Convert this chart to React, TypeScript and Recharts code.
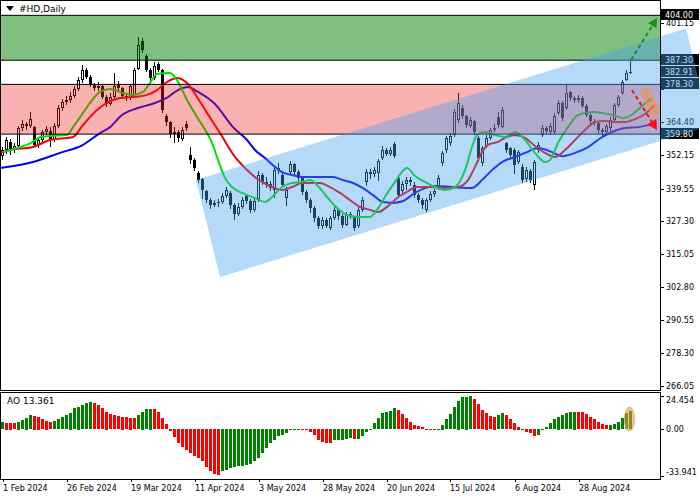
import React from 'react'
import {
  ComposedChart,
  Bar,
  Line,
  Area,
  XAxis,
  YAxis,
  ReferenceArea,
  ReferenceLine,
  ReferenceDot,
  Cell,
} from 'recharts'

const FONT = '"DejaVu Sans", Tahoma, Verdana, sans-serif'

// daily bars from 1 Feb 2024, one per trading day
const opens = [
  351.5, 353.9, 357.0, 353.9, 355.4, 362.1, 363.6, 362.8, 362.5, 355.7,
  357.6, 360.6, 361.0, 357.6, 362.8, 369.5, 371.7, 372.5, 374.0, 376.6,
  379.9, 383.7, 381.1, 378.1, 377.0, 377.7, 373.6, 371.0, 373.6, 378.5,
  376.8, 374.0, 373.2, 374.5, 384.0, 394.5, 389.0, 383.7, 380.7, 385.8,
  383.7, 366.5, 364.3, 360.0, 360.6, 358.0, 363.5, 352.0, 350.2, 345.5,
  343.0, 338.5, 335.3, 333.4, 334.0, 334.5, 336.8, 338.0, 333.4, 330.1,
  332.7, 336.6, 335.0, 331.6, 335.5, 344.6, 342.0, 341.2, 339.0, 346.4,
  344.6, 336.0, 345.7, 348.5, 345.7, 343.5, 338.3, 335.3, 332.3, 328.6,
  325.6, 327.8, 325.0, 328.6, 331.6, 329.3, 326.0, 330.2, 329.0, 325.5,
  331.6, 342.0, 345.7, 344.8, 345.5, 350.8, 353.9, 352.4, 356.0, 343.5,
  338.5, 341.2, 342.7, 341.0, 337.1, 335.3, 331.5, 335.3, 337.5, 340.0,
  349.0, 353.8, 356.5, 359.5, 365.0, 369.5, 366.5, 362.8, 364.5, 358.5,
  349.0, 355.5, 358.3, 361.3, 366.0, 362.5, 356.5, 354.5, 354.0, 349.5,
  347.5, 343.0, 346.0, 340.9, 353.8, 359.5, 362.1, 360.5, 360.5, 367.8,
  371.4, 369.5, 375.5, 373.2, 372.5, 373.2, 370.3, 366.9, 364.7, 364.0,
  361.3, 360.5, 362.0, 365.0, 370.6, 375.0, 380.0, 382.5,
]
const highs = [
  355.0, 358.8, 357.8, 356.5, 363.0, 365.0, 364.4, 368.0, 363.0, 358.5,
  361.5, 363.0, 362.5, 364.0, 370.5, 373.0, 374.0, 375.5, 377.8, 381.0,
  385.5, 384.5, 381.8, 379.0, 379.2, 378.2, 374.5, 375.0, 382.5, 379.5,
  377.5, 375.0, 378.5, 384.5, 396.0, 395.5, 389.8, 384.5, 386.5, 386.5,
  384.0, 367.3, 364.8, 362.5, 361.2, 362.5, 364.5, 355.0, 351.0, 346.0,
  343.5, 339.0, 336.0, 335.2, 335.8, 337.8, 340.0, 338.5, 334.0, 334.2,
  336.5, 337.5, 335.8, 335.6, 346.0, 345.5, 344.0, 342.2, 348.0, 349.0,
  346.0, 340.0, 349.8, 349.0, 346.5, 344.0, 339.0, 336.0, 333.0, 329.5,
  328.8, 328.5, 329.5, 332.5, 332.0, 330.0, 331.0, 330.8, 329.5, 332.5,
  336.5, 346.8, 347.0, 347.5, 350.5, 355.2, 354.5, 355.0, 356.8, 344.0,
  342.5, 344.0, 344.0, 341.8, 338.0, 336.0, 336.0, 338.5, 339.5, 344.5,
  353.5, 359.2, 360.2, 369.0, 375.0, 370.5, 367.0, 366.0, 365.0, 359.0,
  355.5, 359.5, 362.0, 363.5, 368.0, 370.0, 357.0, 355.0, 354.5, 354.0,
  348.5, 347.5, 346.8, 350.2, 356.8, 363.2, 363.0, 363.8, 367.5, 372.5,
  372.0, 378.0, 376.0, 374.0, 374.2, 373.8, 371.0, 367.5, 365.5, 364.8,
  362.0, 363.5, 366.0, 371.5, 374.5, 380.0, 383.5, 387.0,
]
const lows = [
  350.0, 352.5, 352.0, 352.8, 354.8, 361.0, 361.5, 362.0, 355.0, 354.6,
  356.8, 359.5, 355.0, 357.0, 362.0, 368.5, 370.8, 371.5, 373.2, 376.0,
  379.0, 380.2, 377.2, 376.0, 375.8, 372.8, 369.8, 370.2, 373.0, 375.8,
  373.0, 372.2, 372.5, 373.8, 383.5, 390.0, 382.8, 379.5, 380.0, 382.8,
  367.5, 363.0, 358.5, 356.5, 356.8, 357.2, 361.0, 348.5, 346.0, 341.5,
  335.5, 334.0, 332.0, 332.6, 332.8, 333.8, 336.0, 332.0, 328.0, 329.5,
  332.0, 333.8, 330.5, 331.0, 334.5, 341.0, 339.8, 338.5, 336.0, 345.0,
  340.0, 333.0, 344.8, 344.5, 342.5, 337.0, 334.0, 330.5, 327.0, 324.5,
  324.6, 324.8, 324.2, 327.8, 328.0, 325.0, 325.5, 328.2, 323.8, 325.0,
  330.8, 340.5, 343.0, 343.8, 342.5, 350.0, 351.5, 351.8, 350.8, 336.0,
  337.5, 339.0, 340.5, 336.0, 334.0, 332.0, 330.8, 334.5, 336.5, 339.0,
  348.0, 352.8, 355.5, 358.8, 364.0, 365.5, 362.0, 362.0, 359.5, 349.5,
  348.0, 354.5, 357.5, 360.5, 362.0, 362.0, 352.8, 350.5, 345.0, 348.8,
  341.5, 342.0, 341.5, 339.0, 352.8, 358.8, 359.8, 359.5, 359.8, 367.0,
  364.5, 368.8, 372.0, 371.5, 371.5, 369.5, 366.0, 363.5, 362.8, 360.0,
  359.0, 360.0, 361.0, 364.5, 370.0, 374.5, 379.5, 382.0,
]
const closes = [
  353.9, 357.6, 353.9, 355.4, 362.1, 363.6, 362.8, 365.4, 355.7, 357.6,
  360.6, 361.7, 357.6, 362.8, 369.5, 371.7, 372.5, 374.0, 376.6, 379.9,
  383.7, 381.1, 378.1, 377.0, 377.7, 373.6, 371.0, 373.6, 377.7, 376.8,
  374.0, 373.2, 377.7, 383.7, 393.0, 391.1, 383.7, 380.7, 385.1, 383.7,
  368.8, 364.3, 359.8, 360.6, 358.3, 361.3, 362.1, 350.2, 347.2, 342.7,
  339.0, 335.3, 333.4, 334.0, 334.5, 336.8, 339.0, 333.4, 330.1, 332.7,
  335.3, 335.0, 331.6, 334.9, 344.6, 342.0, 341.2, 339.7, 346.4, 347.2,
  340.9, 339.0, 348.5, 345.7, 343.5, 338.3, 335.3, 332.3, 328.6, 325.6,
  327.8, 325.6, 328.6, 331.6, 329.3, 326.0, 329.7, 329.0, 324.9, 331.6,
  335.3, 345.7, 344.8, 346.4, 349.8, 353.9, 352.4, 353.9, 351.6, 337.1,
  341.2, 342.7, 342.0, 337.1, 335.3, 333.4, 335.3, 337.5, 338.6, 343.5,
  352.8, 358.3, 359.1, 368.0, 371.4, 366.5, 363.2, 365.1, 360.6, 350.9,
  354.6, 358.3, 361.3, 362.1, 363.2, 368.8, 353.9, 352.0, 348.3, 353.1,
  342.7, 346.4, 342.7, 349.4, 355.7, 362.1, 361.0, 362.8, 366.5, 371.4,
  365.8, 375.1, 373.2, 372.5, 373.2, 370.3, 366.9, 364.7, 364.0, 361.3,
  360.6, 362.8, 365.1, 370.6, 373.6, 379.2, 382.5, 382.91,
]

// alligator lines: [bar index, price]
const lips: [number, number][] = [
  [0, 353.1], [3.5, 354.6], [7.5, 356.9], [9.25, 358.7], [11.75, 359.1], [16, 359.5],
  [17.5, 362.4], [20, 367.7], [21.75, 371.4], [24.25, 375.5], [26.75, 376.6], [30, 375.1],
  [32.5, 374.4], [35, 375.5], [36.75, 378.8], [38.5, 382.2], [41.75, 382.5], [43.5, 379.9],
  [46, 372.5], [48.5, 366.2], [51, 360.2], [52.25, 356.5], [53.75, 350.2], [55.5, 343.5],
  [57.25, 340.1], [59.75, 337.9], [63, 336.0], [65.5, 334.5], [67.25, 336.4], [69.75, 340.1],
  [72.25, 341.6], [74.75, 342.0], [76.75, 342.7], [78.5, 340.9], [81, 336.4], [83.5, 332.3],
  [86, 329.7], [88.75, 329.0], [91.75, 329.0], [93.5, 331.6], [95.5, 336.4], [98, 342.0],
  [101, 347.2], [103, 344.2], [105.5, 342.0], [108, 340.1], [110.5, 339.0], [113, 340.1],
  [115.5, 346.4], [117.25, 355.0], [118.5, 359.5], [120.5, 360.6], [123, 359.5], [125.5, 358.7],
  [128, 360.6], [130.5, 357.6], [133, 352.8], [135.5, 349.4], [136.75, 350.2], [138.75, 356.5],
  [141.25, 362.4], [143.75, 366.9], [147.25, 368.0], [149.75, 367.7], [152.5, 366.9],
  [155, 365.8], [157.5, 367.3], [159.75, 370.3], [162, 372.9],
]
const teeth: [number, number][] = [
  [-0.75, 352.8], [1.75, 353.9], [7.5, 355.0], [11.75, 357.6], [17.5, 358.7], [20, 363.2],
  [23.5, 368.8], [26, 371.4], [29.25, 373.2], [32.5, 373.6], [36, 374.4], [38.5, 376.2],
  [41, 379.2], [43.5, 380.7], [46, 378.8], [48.5, 373.6], [51, 367.7], [54.25, 360.2],
  [58, 351.3], [60.5, 347.2], [63, 343.8], [64.75, 342.0], [67.25, 340.1], [69.75, 339.0],
  [72.25, 340.1], [74.75, 341.6], [79.25, 341.6], [81.75, 340.1], [84.25, 337.9], [86.75, 335.3],
  [89.25, 332.7], [91.75, 331.6], [93.75, 330.8], [96, 332.7], [98.5, 336.0], [101, 338.3],
  [103.5, 340.1], [106.75, 340.1], [111.25, 339.7], [113.75, 340.1], [116.25, 342.7],
  [118, 347.6], [119.75, 353.1], [121.25, 355.8], [123.75, 356.9], [125.5, 358.4], [128, 359.5],
  [130.5, 358.4], [133, 355.4], [135.5, 352.8], [138, 351.3], [140.5, 353.9], [143, 357.6],
  [145.5, 361.3], [148, 364.3], [150.5, 364.7], [153, 364.3], [155.5, 364.3], [158, 365.4],
  [160.5, 367.3], [162.75, 370.3],
]
const jaw: [number, number][] = [
  [-0.75, 347.2], [7.5, 349.4], [14.25, 352.8], [20, 355.8], [24.25, 360.2], [26.75, 362.4],
  [29.75, 366.9], [33.75, 369.5], [38, 371.4], [41.25, 373.6], [43.75, 376.2], [46.25, 377.3],
  [48.75, 375.5], [53, 371.0], [57.5, 362.4], [61, 357.6], [63, 353.9], [65.5, 350.9],
  [68, 347.6], [69.75, 345.7], [72.25, 344.6], [75.5, 343.8], [82.5, 343.8], [85, 342.7],
  [87.5, 341.6], [90, 339.7], [92.5, 337.1], [95, 334.5], [97.5, 334.2], [100, 334.9],
  [103, 337.9], [105.5, 339.7], [108, 340.5], [112.25, 340.1], [117.25, 339.7], [119.75, 342.7],
  [122.25, 346.4], [124.75, 349.4], [128, 351.3], [130.5, 352.8], [133.75, 354.6], [137.25, 353.1],
  [139.75, 351.6], [143, 352.8], [146.25, 355.0], [149.75, 358.7], [152.25, 360.6],
  [155.5, 362.1], [158.75, 362.4], [163, 363.9],
]

// awesome oscillator, one value per bar
const aoValues = [
  5.2, 4.9, 4.9, 4.7, 5.7, 6.9, 8.6, 10.5, 10.0, 9.3,
  7.6, 6.4, 5.2, 6.0, 7.4, 8.9, 10.5, 12.3, 15.4, 16.7,
  17.9, 19.1, 19.8, 19.3, 17.9, 15.4, 13.0, 11.3, 10.3, 9.8,
  9.3, 8.8, 8.6, 8.4, 10.5, 13.0, 14.7, 15.2, 14.9, 12.5,
  8.1, 3.7, -1.7, -6.0, -10.2, -13.1, -15.1, -17.5, -19.5, -21.2,
  -23.6, -28.0, -30.5, -32.7, -33.941, -31.0, -29.8, -28.6, -27.8, -27.3,
  -26.8, -26.1, -25.3, -23.6, -21.2, -17.5, -13.9, -10.2, -7.8, -5.3,
  -4.1, -2.9, -0.9, -0.3, -0.2, -0.25, -0.3, -2.4, -4.1, -7.8,
  -9.5, -10.0, -10.6, -8.3, -8.2, -7.8, -7.1, -6.5, -7.3, -7.0,
  -5.3, -2.4, 0.5, 4.4, 8.1, 11.8, 12.5, 13.4, 15.4, 14.2,
  11.3, 8.4, 5.7, 3.2, 2.5, 1.5, -0.6, -1.0, -1.0, 0.2,
  3.4, 7.6, 11.3, 16.2, 21.1, 23.5, 24.0, 24.454, 22.0, 18.6,
  14.2, 12.3, 9.8, 9.3, 10.5, 11.8, 10.3, 7.4, 4.9, 2.0,
  -0.5, -2.4, -2.9, -4.9, -4.1, -0.5, 1.5, 4.4, 7.4, 9.3,
  10.5, 11.8, 12.5, 13.0, 12.7, 12.5, 11.3, 9.3, 7.4, 5.2,
  3.9, 3.2, 3.4, 3.9, 5.7, 8.1, 11.8, 13.361,
]

const priceTicks = [401.15, 364.4, 352.15, 339.55, 327.3, 315.05, 302.8, 290.55, 278.3, 266.05]
// grid ticks whose labels sit under the marked price boxes
const coveredTicks = [388.9, 376.65]
const priceMarks = [404.0, 387.3, 382.91, 378.3, 359.8]
const aoTicks = [24.454, 0, -33.941]
const dateLabels = [
  '1 Feb 2024', '26 Feb 2024', '19 Mar 2024', '11 Apr 2024', '3 May 2024',
  '28 May 2024', '20 Jun 2024', '15 Jul 2024', '6 Aug 2024', '28 Aug 2024',
]
const dateBars = [0, 16, 32, 48, 64, 80, 96, 112, 128, 144]

// zones
const buyZone = [387.3, 404.0]
const sellZone = [359.8, 378.3]

// rising channel as a band: bar index, lower edge, upper edge
const channelX = [48.25, 54.25, 170.75, 176.75]
const channelLow = [342.7, 306.6, 360.2, 362.97]
const channelHigh = [342.7, 345.5, 399.1, 362.97]

// orange warning band next to the down arrow
const warnX = [159.5, 161.25, 162.5, 164.25]
const warnLow = [375.5, 370.0, 366.2, 368.0]
const warnHigh = [375.5, 376.96, 373.2, 368.0]

// scenario arrows: [bar, price] start and end
const upArrow = [[157, 387.4], [163.5, 403.0]]
const downArrow = [[157.25, 376.2], [163.5, 361.3]]

const X_DOMAIN: [number, number] = [-0.75, 174.25]
const AXIS_X = 164.25
const LAST = closes.length - 1

const candles = closes.map((c, i) => ({ x: i, o: opens[i], h: highs[i], l: lows[i], c }))
const aoData = aoValues.map((v, i) => ({ x: i, ao: v }))
const toPts = (arr: [number, number][]) => arr.map(([x, v]) => ({ x, v }))
const channelData = channelX.map((x, i) => ({ x, band: [channelLow[i], channelHigh[i]] }))
const warnData = warnX.map((x, i) => ({ x, band: [warnLow[i], warnHigh[i]] }))

function Candle(props: any) {
  const { x, y, width, height, payload } = props
  if (!payload) return null
  const { o, h, l, c } = payload
  const top = Math.min(y, y + height)
  const span = Math.abs(height)
  const py = (v: number) => top + ((h - v) / (h - l)) * span
  const cx = Math.floor(x + width / 2)
  const yo = Math.round(py(o))
  const yc = Math.round(py(c))
  const bodyTop = Math.min(yo, yc)
  const bodyH = Math.abs(yo - yc)
  const bull = c >= o
  return (
    <g>
      <line x1={cx + 0.5} x2={cx + 0.5} y1={Math.round(top)} y2={Math.round(top + span)} stroke="#000" />
      {bodyH < 2 ? (
        <rect x={cx - 1} y={bodyTop} width={3} height={1} fill="#000" />
      ) : bull ? (
        <rect x={cx - 0.5} y={bodyTop + 0.5} width={2} height={bodyH - 1} fill="#fff" stroke="#000" />
      ) : (
        <rect x={cx - 1} y={bodyTop} width={3} height={bodyH} fill="#000" />
      )}
    </g>
  )
}

function AoBar(props: any) {
  const { x, y, width, height, fill } = props
  const cx = Math.floor(x + width / 2)
  const top = Math.round(Math.min(y, y + height))
  const h = Math.max(1, Math.round(Math.abs(height)))
  return <rect x={cx - 1} y={top} width={3} height={h} fill={fill} />
}

function ArrowShape(props: any) {
  const { x1, y1, x2, y2, color, head } = props
  const a = Math.atan2(y2 - y1, x2 - x1)
  const cos = Math.cos(a)
  const sin = Math.sin(a)
  const bx = x2 - head * cos
  const by = y2 - head * sin
  const w = head * 0.55
  const pts = `${x2},${y2} ${bx - w * sin},${by + w * cos} ${bx + w * sin},${by - w * cos}`
  return (
    <g>
      <line x1={x1} y1={y1} x2={bx} y2={by} stroke={color} strokeWidth={2} strokeDasharray="4 3" />
      <polygon points={pts} fill={color} />
    </g>
  )
}

function TickText(props: any) {
  const { cx, cy, text, lo, hi } = props
  const ty = Math.min(Math.max(cy, lo ?? -1e9), hi ?? 1e9)
  const ly = Math.round(cy) + 0.5
  return (
    <g>
      <line x1={cx + 1} x2={cx + 4} y1={ly} y2={ly} stroke="#000" />
      {text ? (
        <text x={cx + 6} y={ty + 3} fontSize={8} fontFamily={FONT} fill="#000">{text}</text>
      ) : null}
    </g>
  )
}

function BoxText(props: any) {
  const { cx, cy, text } = props
  const top = Math.round(cy) - 6
  return (
    <g>
      <rect x={cx + 1} y={top} width={38} height={11} fill="#000" />
      <text x={cx + 5} y={top + 9} fontSize={8} fontFamily={FONT} fill="#fff">{text}</text>
    </g>
  )
}

function DateTick(props: any) {
  const { x, y, payload } = props
  const k = dateBars.indexOf(payload.value)
  const px = Math.floor(x) + 0.5
  return (
    <g>
      <line x1={px} x2={px} y1={y - 8} y2={y - 5} stroke="#000" />
      <text x={Math.floor(x)} y={y + 4} fontSize={8} fontFamily={FONT} fill="#000">{dateLabels[k]}</text>
    </g>
  )
}

function PriceChart() {
  return (
    <ComposedChart width={700} height={391} data={candles} margin={{ top: 0, right: 0, bottom: 0, left: 0 }}>
      <XAxis type="number" dataKey="x" domain={X_DOMAIN} allowDataOverflow hide />
      <YAxis type="number" domain={[264.2, 409.71]} allowDataOverflow hide />
      <Bar dataKey={(d: any) => [d.l, d.h]} barSize={3} shape={Candle} isAnimationActive={false} zIndex={300} />
      <Line data={toPts(jaw)} dataKey="v" type="monotone" stroke="#0000e6" strokeWidth={2} dot={false} activeDot={false} isAnimationActive={false} zIndex={400} />
      <Line data={toPts(teeth)} dataKey="v" type="monotone" stroke="#f00000" strokeWidth={2} dot={false} activeDot={false} isAnimationActive={false} zIndex={401} />
      <Line data={toPts(lips)} dataKey="v" type="monotone" stroke="#00e000" strokeWidth={2} dot={false} activeDot={false} isAnimationActive={false} zIndex={402} />
      <ReferenceArea x1={X_DOMAIN[0]} x2={AXIS_X} y1={buyZone[0]} y2={buyZone[1]} fill="rgb(0,128,0)" fillOpacity={0.5} stroke="none" zIndex={500} />
      <ReferenceArea x1={X_DOMAIN[0]} x2={AXIS_X} y1={sellZone[0]} y2={sellZone[1]} fill="rgb(240,40,40)" fillOpacity={0.36} stroke="none" zIndex={501} />
      {[...buyZone, ...sellZone].map((v) => (
        <ReferenceLine key={'z' + v} segment={[{ x: X_DOMAIN[0], y: v }, { x: AXIS_X, y: v }]} stroke="#000" zIndex={550} />
      ))}
      {priceTicks.map((v) => (
        <ReferenceDot key={'t' + v} x={AXIS_X} y={v} r={0} zIndex={600}
          shape={(p: any) => <TickText cx={p.cx} cy={p.cy} text={v.toFixed(2)} />} />
      ))}
      {coveredTicks.map((v) => (
        <ReferenceDot key={'c' + v} x={AXIS_X} y={v} r={0} zIndex={600}
          shape={(p: any) => <TickText cx={p.cx} cy={p.cy} />} />
      ))}
      {priceMarks.map((v) => (
        <ReferenceDot key={'m' + v} x={AXIS_X} y={v} r={0} zIndex={650}
          shape={(p: any) => <BoxText cx={p.cx} cy={p.cy} text={v.toFixed(2)} />} />
      ))}
      <Area data={channelData} dataKey="band" type="linear" fill="rgb(70,160,240)" fillOpacity={0.4} stroke="none" isAnimationActive={false} zIndex={700} />
      <Area data={warnData} dataKey="band" type="linear" fill="rgb(255,140,40)" fillOpacity={0.45} stroke="rgb(245,150,60)" isAnimationActive={false} zIndex={710} />
      <ReferenceLine segment={[{ x: upArrow[0][0], y: upArrow[0][1] }, { x: upArrow[1][0], y: upArrow[1][1] }]} zIndex={800}
        shape={(p: any) => <ArrowShape {...p} color="#1f8a1f" head={9} />} />
      <ReferenceLine segment={[{ x: downArrow[0][0], y: downArrow[0][1] }, { x: downArrow[1][0], y: downArrow[1][1] }]} zIndex={801}
        shape={(p: any) => <ArrowShape {...p} color="#ff1010" head={10} />} />
    </ComposedChart>
  )
}

function AoChart() {
  return (
    <ComposedChart width={700} height={108} data={aoData} margin={{ top: 0, right: 0, bottom: 0, left: 0 }}>
      <XAxis type="number" dataKey="x" domain={X_DOMAIN} allowDataOverflow ticks={dateBars} interval={0}
        tick={DateTick} tickLine={false} axisLine={false} height={21} />
      <YAxis type="number" domain={[-36.34, 27.4]} allowDataOverflow hide />
      <Bar dataKey="ao" barSize={3} shape={AoBar} isAnimationActive={false}>
        {aoValues.map((v, i) => (
          <Cell key={i} fill={i === 0 || v > aoValues[i - 1] ? '#008000' : '#ff0000'} />
        ))}
      </Bar>
      {aoTicks.map((v) => (
        <ReferenceDot key={'a' + v} x={AXIS_X} y={v} r={0}
          shape={(p: any) => <TickText cx={p.cx} cy={p.cy} lo={8} hi={80} text={v === 0 ? '0.00' : v.toFixed(3)} />} />
      ))}
      <ReferenceDot x={LAST - 0.4} y={7.6} r={0}
        shape={(p: any) => (
          <ellipse cx={p.cx} cy={p.cy} rx={5} ry={12} fill="rgb(230,150,60)" fillOpacity={0.55} stroke="rgb(240,170,100)" />
        )} />
    </ComposedChart>
  )
}

export default function App() {
  const frame = { position: 'absolute' as const, border: '1px solid #000', boxSizing: 'border-box' as const, pointerEvents: 'none' as const }
  return (
    <div style={{ position: 'fixed', left: 0, top: 0, width: 700, height: 500, background: '#fff', overflow: 'hidden', fontFamily: FONT }}>
      <div style={{ position: 'absolute', left: 0, top: 0 }}>
        <PriceChart />
      </div>
      <div style={{ ...frame, left: 0, top: 0, width: 661, height: 391 }} />
      <div style={{ position: 'absolute', left: 6, top: 3, fontSize: 9, lineHeight: '12px', color: '#000', display: 'flex', alignItems: 'center' }}>
        <svg width={8} height={6} style={{ marginRight: 5 }}>
          <polygon points="0,0 8,0 4,5" fill="#000" />
        </svg>
        #HD,Daily
      </div>
      <div style={{ position: 'absolute', left: 0, top: 392 }}>
        <AoChart />
      </div>
      <div style={{ ...frame, left: 0, top: 392, width: 661, height: 88 }} />
      <div style={{ position: 'absolute', left: 7, top: 395, fontSize: 9, lineHeight: '12px', color: '#000' }}>
        AO 13.361
      </div>
    </div>
  )
}
